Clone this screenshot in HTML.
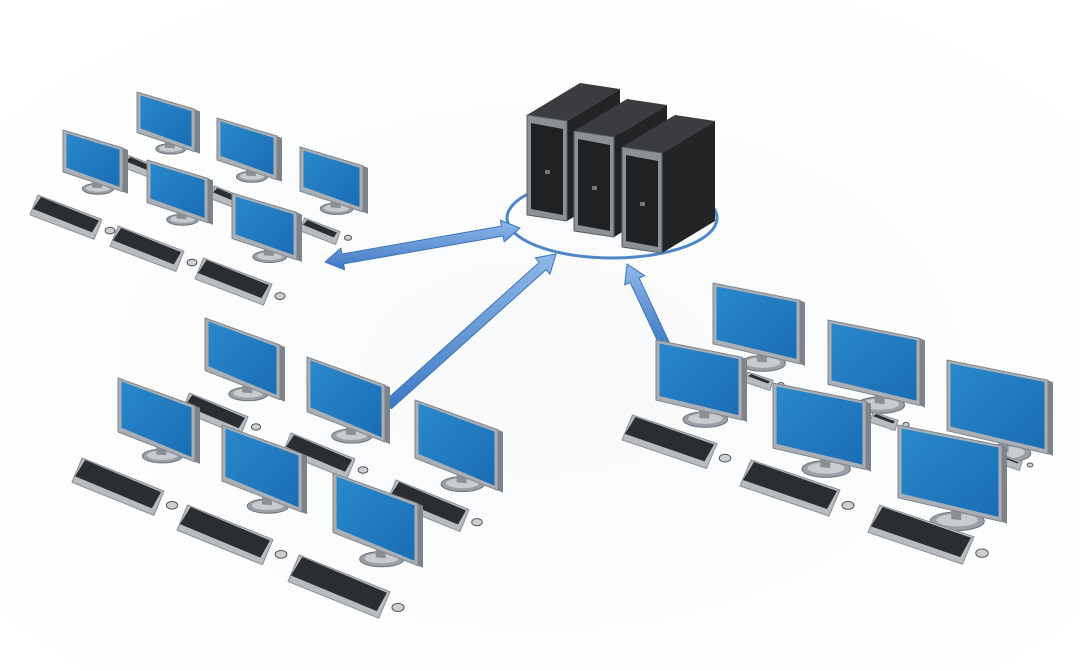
<!DOCTYPE html>
<html><head><meta charset="utf-8"><style>
html,body{margin:0;padding:0;background:#fff;width:1080px;height:671px;overflow:hidden}
svg{display:block}
</style></head><body>
<svg id="s" width="1080" height="671" viewBox="0 0 1080 671" xmlns="http://www.w3.org/2000/svg">
<defs>
<radialGradient id="bg" cx="50%" cy="55%" r="65%"><stop offset="0" stop-color="#f8f9fa"/><stop offset="1" stop-color="#ffffff"/></radialGradient>
<linearGradient id="scr" x1="0" y1="0" x2="1" y2="1"><stop offset="0" stop-color="#2a88cc"/><stop offset="1" stop-color="#1a6db4"/></linearGradient>
<linearGradient id="arr" x1="0" y1="0" x2="0" y2="1"><stop offset="0" stop-color="#8fb8e8"/><stop offset="1" stop-color="#3f79c4"/></linearGradient>
</defs>
<rect width="1080" height="671" fill="url(#bg)"/>
<g id="g"></g>
</svg>
<script>
const NS="http://www.w3.org/2000/svg";const g=document.getElementById('g');
function el(t,a){const e=document.createElementNS(NS,t);for(const k in a)e.setAttribute(k,a[k]);g.appendChild(e);return e;}
function poly(pts,f,st,sw){return el('polygon',{points:pts.map(p=>p.join(',')).join(' '),fill:f,stroke:st||'none','stroke-width':sw||0,'stroke-linejoin':'round'});}
const items=[];
function mon(x,y,w,s){items.push({y:y+0.7*w,f:()=>{
 const h1=0.7*w,h2=0.73*w,d=s*w;
 const cx=x+w*0.55,by=y+d*0.55+h1*1.05;
 el('ellipse',{cx:cx+2,cy:by+w*0.08,rx:w*0.26,ry:w*0.09,fill:'#9aa0a6',stroke:'#6e747a','stroke-width':1});
 el('ellipse',{cx:cx+2,cy:by+w*0.07,rx:w*0.2,ry:w*0.06,fill:'#c8ccd0'});
 poly([[cx-4,by-12],[cx+6,by-10],[cx+6,by+w*0.07],[cx-4,by+w*0.06]],'#8a9096');
 poly([[x+w,y+d],[x+w+5,y+d+2],[x+w+5,y+d+h2+2],[x+w,y+d+h2]],'#7d8388');
 poly([[x,y],[x+w,y+d],[x+w,y+d+h2],[x,y+h1]],'#a9afb5','#80868c',1);
 const b=3.5;
 poly([[x+b,y+b],[x+w-b,y+d+b*0.5],[x+w-b,y+d+h2-b*1.4],[x+b,y+h1-b*1.2]],'url(#scr)');
}});}
function kb(x,y,L,s){items.push({y:y,f:()=>{
 const t=L*0.22;
 const p=[[x+t*0.5,y],[x+L,y+s*L],[x+L-t*0.5,y+s*L+t],[x,y+t]];
 poly([[p[0][0],p[0][1]],[p[1][0],p[1][1]],[p[2][0],p[2][1]+4],[p[3][0],p[3][1]+4]],'#b8bcc0','#8a8f94',1);
 poly([[x+t*0.5+3,y+2],[x+L-3,y+s*L+1],[x+L-t*0.5-2,y+s*L+t-3],[x+3,y+t-2]],'#2a2d31');
 el('ellipse',{cx:x+L+8,cy:y+s*L+t*0.7,rx:L*0.04+2,ry:L*0.025+1.5,fill:'#ccd0d4',stroke:'#555',"stroke-width":1});
}});}
[[137,92,58],[217,118,60],[300,147,63],[63,130,60],[147,160,61],[232,193,65]].forEach(a=>mon(a[0],a[1],a[2],0.3));
[[30,195,72],[110,226,74],[195,258,77],[123,155,38],[210,186,38],[300,218,40]].forEach(a=>kb(a[0],a[1],a[2],0.34));
[[205,318,75],[307,357,78],[415,400,83],[118,378,77],[222,425,80],[333,473,85]].forEach(a=>mon(a[0],a[1],a[2],0.36));
[[72,458,92],[177,505,96],[288,555,102],[182,393,66],[283,433,72],[387,480,82]].forEach(a=>kb(a[0],a[1],a[2],0.36));
[[713,283,87],[828,320,92],[947,360,101],[656,340,86],[773,383,93],[898,425,104]].forEach(a=>mon(a[0],a[1],a[2],0.2));
[[622,415,95],[740,460,100],[868,505,106],[745,372,28],[870,412,28],[1000,455,22]].forEach(a=>kb(a[0],a[1],a[2],0.3));
function tower(px,py){
 const W=40,dx=53,dy=-32,H=100,fd=6;
 poly([[px,py],[px+W,py+fd],[px+W+dx,py+fd+dy],[px+dx,py+dy]],'#3a3c3f');
 poly([[px+W,py+fd],[px+W+dx,py+fd+dy],[px+W+dx,py+fd+dy+H],[px+W,py+fd+H]],'#222426');
 poly([[px,py],[px+W,py+fd],[px+W,py+fd+H],[px,py+H]],'#8c9197','#5a5e62',1);
 poly([[px+4,py+8],[px+W-4,py+fd+8],[px+W-4,py+fd+H-6],[px+4,py+H-6]],'#1f2123');
 el('rect',{x:px+18,y:py+55,width:5,height:4,fill:'#777'});
}
el('ellipse',{cx:612,cy:218,rx:105,ry:40,fill:'none',stroke:'#4f86c6','stroke-width':3});
function arrow(x1,y1,x2,y2,dbl){
 const dx=x2-x1,dy=y2-y1,l=Math.hypot(dx,dy),ux=dx/l,uy=dy/l,nx=-uy,ny=ux;
 const sw=5,hw=11,hl=18;
 const P=(a,b)=>[x1+ux*a+nx*b,y1+uy*a+ny*b];
 poly([P(0,0)].concat(dbl?[P(hl,hw),P(hl,sw)]:[P(0,sw)]).concat([P(l-hl,sw),P(l-hl,hw),P(l,0),P(l-hl,-hw),P(l-hl,-sw)]).concat(dbl?[P(hl,-sw),P(hl,-hw)]:[P(0,-sw)]),'url(#arr)','#3d74bb',1);
}
items.sort((a,b)=>a.y-b.y);
tower(527,115);tower(574,131);tower(622,147);
arrow(325,262,520,228,true);
arrow(388,405,556,254,false);
arrow(665,345,627,264,false);
items.forEach(i=>i.f());
</script>
</body></html>
